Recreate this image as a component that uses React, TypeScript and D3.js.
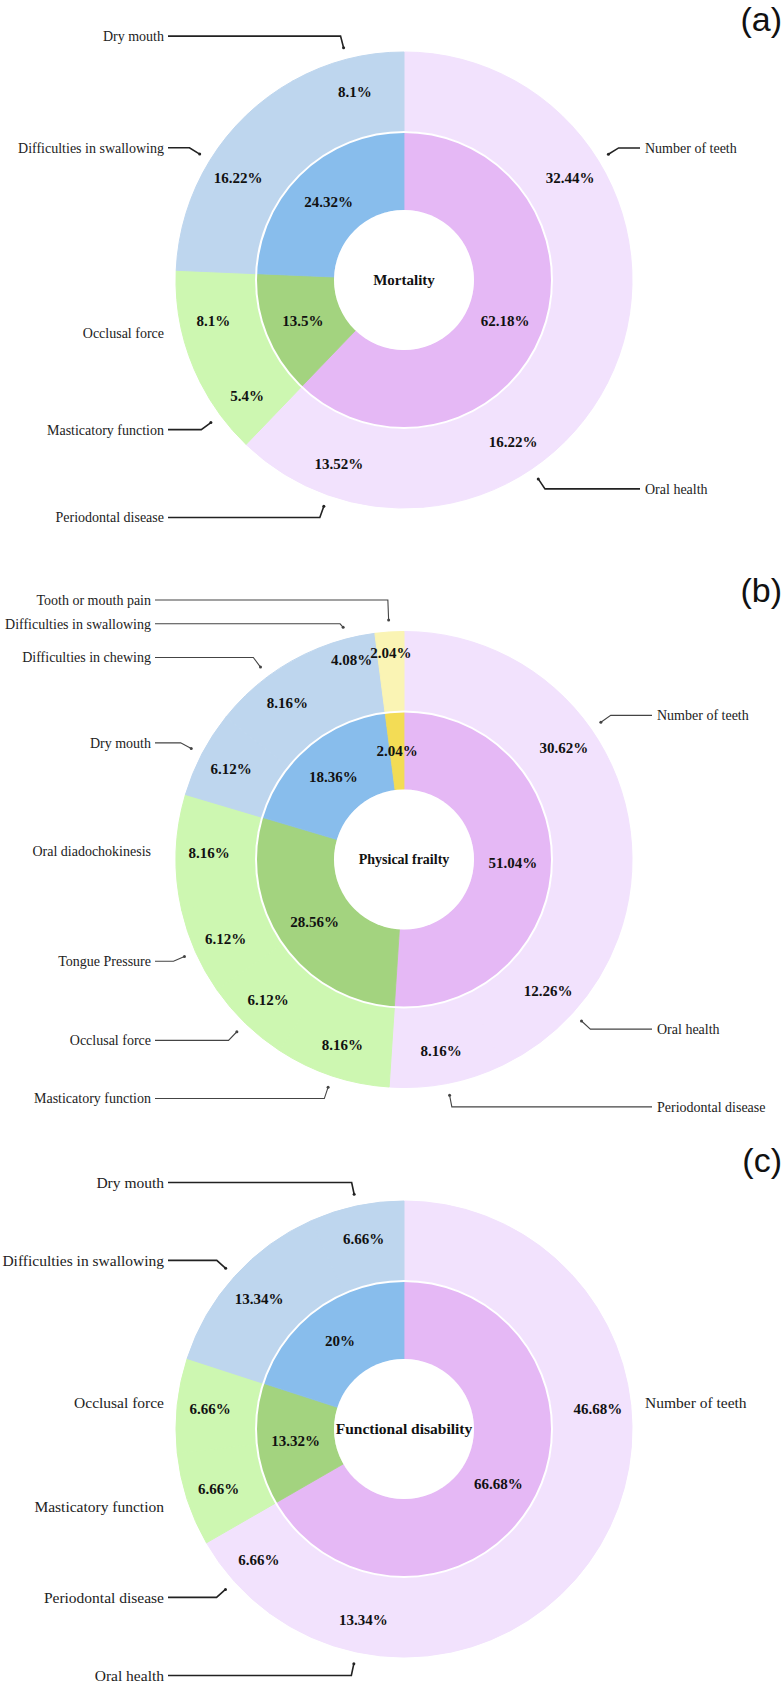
import React, { useEffect } from 'react';
import * as d3 from 'd3';

// ---------- data ----------
const panelTags = ['(a)', '(b)', '(c)'];
const centerTitles = ['Mortality', 'Physical frailty', 'Functional disability'];

// inner ring (domain groups)
const innerGroupsA = ['health', 'function', 'symptoms'];
const innerValuesA = [62.18, 13.5, 24.32];
const innerGroupsB = ['health', 'function', 'symptoms', 'pain'];
const innerValuesB = [51.04, 28.56, 18.36, 2.04];
const innerGroupsC = ['health', 'function', 'symptoms'];
const innerValuesC = [66.68, 13.32, 20];

// outer ring (items)
const outerLabelsA = ['Number of teeth', 'Oral health', 'Periodontal disease', 'Masticatory function', 'Occlusal force', 'Difficulties in swallowing', 'Dry mouth'];
const outerValuesA = [32.44, 16.22, 13.52, 5.4, 8.1, 16.22, 8.1];
const outerGroupsA = ['health', 'health', 'health', 'function', 'function', 'symptoms', 'symptoms'];

const outerLabelsB = ['Number of teeth', 'Oral health', 'Periodontal disease', 'Masticatory function', 'Occlusal force', 'Tongue Pressure', 'Oral diadochokinesis', 'Dry mouth', 'Difficulties in chewing', 'Difficulties in swallowing', 'Tooth or mouth pain'];
const outerValuesB = [30.62, 12.26, 8.16, 8.16, 6.12, 6.12, 8.16, 6.12, 8.16, 4.08, 2.04];
const outerGroupsB = ['health', 'health', 'health', 'function', 'function', 'function', 'function', 'symptoms', 'symptoms', 'symptoms', 'pain'];

const outerLabelsC = ['Number of teeth', 'Oral health', 'Periodontal disease', 'Masticatory function', 'Occlusal force', 'Difficulties in swallowing', 'Dry mouth'];
const outerValuesC = [46.68, 13.34, 6.66, 6.66, 6.66, 13.34, 6.66];
const outerGroupsC = ['health', 'health', 'health', 'function', 'function', 'symptoms', 'symptoms'];

// ---------- styles ----------
const innerColor: Record<string, string> = {
  health: '#e5b8f5',
  function: '#a3d37f',
  symptoms: '#88bdec',
  pain: '#f3dc55',
};
const outerColor: Record<string, string> = {
  health: '#f2e2fd',
  function: '#cdf7b1',
  symptoms: '#bed6ee',
  pain: '#faf4b4',
};

const SERIF = "'Times New Roman', 'Liberation Serif', Tinos, serif";
const SANS = "Arial, 'Liberation Sans', Helvetica, sans-serif";

const R_HOLE = 70;
const R_MID = 148;
const R_OUT = 228;

type PanelCfg = {
  tag: string;
  title: string;
  innerGroups: string[];
  innerValues: number[];
  outerLabels: string[];
  outerValues: number[];
  outerGroups: string[];
  cy: number;
  tagY: number;
  labelFont: number;
  titleFont: number;
  leftCol: number;
  rightCol: number;
  lineW: number;
  lineColor: string;
};

const panels: PanelCfg[] = [
  {
    tag: panelTags[0], title: centerTitles[0],
    innerGroups: innerGroupsA, innerValues: innerValuesA,
    outerLabels: outerLabelsA, outerValues: outerValuesA, outerGroups: outerGroupsA,
    cy: 280, tagY: 31, labelFont: 14, titleFont: 15, leftCol: -236, rightCol: 236, lineW: 1.6, lineColor: '#222',
  },
  {
    tag: panelTags[1], title: centerTitles[1],
    innerGroups: innerGroupsB, innerValues: innerValuesB,
    outerLabels: outerLabelsB, outerValues: outerValuesB, outerGroups: outerGroupsB,
    cy: 859.5, tagY: 602, labelFont: 14, titleFont: 14, leftCol: -249, rightCol: 248, lineW: 1.1, lineColor: '#444',
  },
  {
    tag: panelTags[2], title: centerTitles[2],
    innerGroups: innerGroupsC, innerValues: innerValuesC,
    outerLabels: outerLabelsC, outerValues: outerValuesC, outerGroups: outerGroupsC,
    cy: 1429, tagY: 1172, labelFont: 15.5, titleFont: 15.5, leftCol: -236, rightCol: 236, lineW: 1.6, lineColor: '#222',
  },
];

const CX = 404;

function pt(a: number, r: number): [number, number] {
  return [r * Math.sin(a), -r * Math.cos(a)];
}

function Panel({ cfg }: { cfg: PanelCfg }) {
  const pie = d3.pie<number>().sort(null).value((d) => d).startAngle(0).endAngle(2 * Math.PI);
  const innerArcs = pie(cfg.innerValues);
  const outerArcs = pie(cfg.outerValues);
  const innerArc = d3.arc<d3.PieArcDatum<number>>().innerRadius(R_HOLE).outerRadius(R_MID);
  const outerArc = d3.arc<d3.PieArcDatum<number>>().innerRadius(R_MID).outerRadius(R_OUT);
  const total = d3.sum(cfg.outerValues);

  // leader label layout
  type Lab = { i: number; a: number; side: number; s: [number, number]; e: [number, number]; y: number };
  const labs: Lab[] = outerArcs.map((d, i) => {
    const a = (d.startAngle + d.endAngle) / 2;
    const s = pt(a, R_OUT + 12);
    const e = pt(a, R_OUT + 24);
    return { i, a, side: Math.sin(a) < 0 ? -1 : 1, s, e, y: e[1] };
  });
  const gap = cfg.labelFont * 1.7;
  [-1, 1].forEach((side) => {
    const group = labs.filter((l) => l.side === side).sort((p, q) => p.y - q.y);
    for (let it = 0; it < 60; it++) {
      let moved = false;
      for (let k = 1; k < group.length; k++) {
        const diff = group[k].y - group[k - 1].y;
        if (diff < gap - 0.01) {
          const push = (gap - diff) / 2;
          group[k].y += push;
          group[k - 1].y -= push;
          moved = true;
        }
      }
      if (!moved) break;
    }
  });

  return (
    <g>
      <text x={782} y={cfg.tagY} textAnchor="end" fontFamily={SANS} fontSize={34} fill="#111">
        {cfg.tag}
      </text>
      <g transform={`translate(${CX},${cfg.cy})`}>
        {outerArcs.map((d, i) => {
          const c = outerColor[cfg.outerGroups[i]];
          return <path key={'o' + i} d={outerArc(d) || ''} fill={c} stroke={c} strokeWidth={1} strokeLinejoin="round" />;
        })}
        {innerArcs.map((d, i) => {
          const c = innerColor[cfg.innerGroups[i]];
          return <path key={'i' + i} d={innerArc(d) || ''} fill={c} stroke={c} strokeWidth={0.8} strokeLinejoin="round" />;
        })}
        <circle r={R_HOLE} fill="#fff" />
        <circle r={R_MID} fill="none" stroke="#fff" strokeWidth={2} />
        {/* outer percentages */}
        {outerArcs.map((d, i) => {
          const a = (d.startAngle + d.endAngle) / 2;
          const frac = d.value / total;
          const [x, y] = pt(a, frac < 0.05 ? 207 : 195);
          return (
            <text key={'op' + i} x={x} y={y} dy="0.35em" textAnchor="middle" fontFamily={SERIF} fontWeight="bold" fontSize={15} fill="#111">
              {`${d.value}%`}
            </text>
          );
        })}
        {/* inner percentages */}
        {innerArcs.map((d, i) => {
          const a = (d.startAngle + d.endAngle) / 2;
          const [x, y] = pt(a, 109);
          return (
            <text key={'ip' + i} x={x} y={y} dy="0.35em" textAnchor="middle" fontFamily={SERIF} fontWeight="bold" fontSize={15} fill="#111">
              {`${d.value}%`}
            </text>
          );
        })}
        <text x={0} y={0} dy="0.35em" textAnchor="middle" fontFamily={SERIF} fontWeight="bold" fontSize={cfg.titleFont} fill="#111">
          {cfg.title}
        </text>
        {/* leader lines and labels */}
        {labs.map((l) => {
          const col = l.side < 0 ? cfg.leftCol : cfg.rightCol;
          const ex = l.e[0];
          const showLine = l.side < 0 ? ex > col : ex < col;
          const textX = l.side < 0 ? col - 4 : col + 5;
          return (
            <g key={'l' + l.i}>
              {showLine && (
                <>
                  <polyline
                    points={`${l.s[0]},${l.s[1]} ${ex},${l.y} ${col},${l.y}`}
                    fill="none"
                    stroke={cfg.lineColor}
                    strokeWidth={cfg.lineW}
                  />
                  <circle cx={l.s[0]} cy={l.s[1]} r={1.5} fill={cfg.lineColor} />
                </>
              )}
              <text
                x={textX}
                y={l.y}
                dy="0.35em"
                textAnchor={l.side < 0 ? 'end' : 'start'}
                fontFamily={SERIF}
                fontSize={cfg.labelFont}
                fill="#222"
              >
                {cfg.outerLabels[l.i]}
              </text>
            </g>
          );
        })}
      </g>
    </g>
  );
}

export default function App() {
  useEffect(() => {
    document.body.style.margin = '0';
  }, []);
  return (
    <svg
      width={784}
      height={1684}
      viewBox="0 0 784 1684"
      style={{ display: 'block', position: 'absolute', left: 0, top: 0, background: '#fff' }}
    >
      <rect x={0} y={0} width={784} height={1684} fill="#fff" />
      {panels.map((p, i) => (
        <Panel key={i} cfg={p} />
      ))}
    </svg>
  );
}
